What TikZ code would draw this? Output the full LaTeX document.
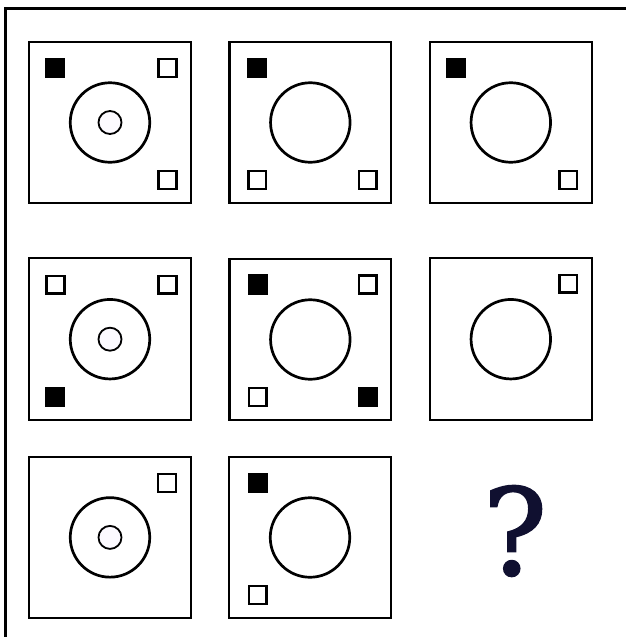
\documentclass[tikz,border=0pt]{standalone}
\usepackage{fontspec}
\newfontfamily\qfont[FakeBold=1.6]{DejaVu Serif}
\definecolor{qnavy}{RGB}{16,16,48}
\tikzset{
  cellbox/.style={draw, line width=2.1pt, minimum size=161.7pt, inner sep=0pt, outer sep=0pt},
  bigcirc/.style={circle, draw, line width=2.7pt, minimum size=79.5pt, inner sep=0pt, outer sep=0pt},
  smallcirc/.style={circle, draw, line width=1.8pt, fill={rgb,255:red,252;green,250;blue,255}, minimum size=23pt, inner sep=0pt, outer sep=0pt},
  hsq/.style={draw, line width=2.5pt, minimum size=17.8pt, inner sep=0pt, outer sep=0pt},
  fsq/.style={hsq, fill=black},
}
\begin{document}
\begin{tikzpicture}[x=1pt,y=-1pt]
\useasboundingbox (0,0) rectangle (626,637);
% outer frame (left and top)
\coordinate (fb) at (5.3,640);
\coordinate (fc) at (5.3,8.5);
\coordinate (fr) at (630,8.5);
\draw[line width=2.7pt] (fb) -- (fc) -- (fr);
% row 1
\node[cellbox] (c11) at (110,122.5) {};
\node[bigcirc] (c11o) at (c11) {};
\node[smallcirc] (c11i) at (c11) {};
\node[fsq] (c11tl) at ([shift={(-55,-54.5)}]c11) {};
\node[hsq] (c11tr) at ([shift={(57.5,-54.5)}]c11) {};
\node[hsq] (c11br) at ([shift={(57.5,57.5)}]c11) {};

\node[cellbox] (c12) at (310.3,122.5) {};
\node[bigcirc] (c12o) at (c12) {};
\node[fsq] (c12tl) at ([shift={(-53,-54.5)}]c12) {};
\node[hsq] (c12bl) at ([shift={(-53,57.5)}]c12) {};
\node[hsq] (c12br) at ([shift={(57.5,57.5)}]c12) {};

\node[cellbox] (c13) at (510.8,122.5) {};
\node[bigcirc] (c13o) at (c13) {};
\node[fsq] (c13tl) at ([shift={(-55,-54.5)}]c13) {};
\node[hsq] (c13br) at ([shift={(57.5,57.5)}]c13) {};
% row 2
\node[cellbox] (c21) at (110,339.2) {};
\node[bigcirc] (c21o) at (c21) {};
\node[smallcirc] (c21i) at (c21) {};
\node[hsq] (c21tl) at ([shift={(-54.5,-54.5)}]c21) {};
\node[hsq] (c21tr) at ([shift={(57.5,-54.5)}]c21) {};
\node[fsq] (c21bl) at ([shift={(-55,57.5)}]c21) {};

\node[cellbox] (c22) at (310.3,339.5) {};
\node[bigcirc] (c22o) at (c22) {};
\node[fsq] (c22tl) at ([shift={(-52.5,-55)}]c22) {};
\node[hsq] (c22tr) at ([shift={(57.5,-55)}]c22) {};
\node[hsq] (c22bl) at ([shift={(-52.5,57.5)}]c22) {};
\node[fsq] (c22br) at ([shift={(57.5,57.5)}]c22) {};

\node[cellbox] (c23) at (510.8,339.2) {};
\node[bigcirc] (c23o) at (c23) {};
\node[hsq] (c23tr) at ([shift={(57.5,-55.5)}]c23) {};
% row 3
\node[cellbox] (c31) at (110,537.4) {};
\node[bigcirc] (c31o) at (c31) {};
\node[smallcirc] (c31i) at (c31) {};
\node[hsq] (c31tr) at ([shift={(57,-54.5)}]c31) {};

\node[cellbox] (c32) at (310,537.5) {};
\node[bigcirc] (c32o) at (c32) {};
\node[fsq] (c32tl) at ([shift={(-52.3,-54.5)}]c32) {};
\node[hsq] (c32bl) at ([shift={(-52.3,57.5)}]c32) {};

\node[inner sep=0pt, outer sep=0pt, text=qnavy, font=\qfont\fontsize{120}{120}\selectfont] (q) at (515,531) {?};
\end{tikzpicture}
\end{document}
